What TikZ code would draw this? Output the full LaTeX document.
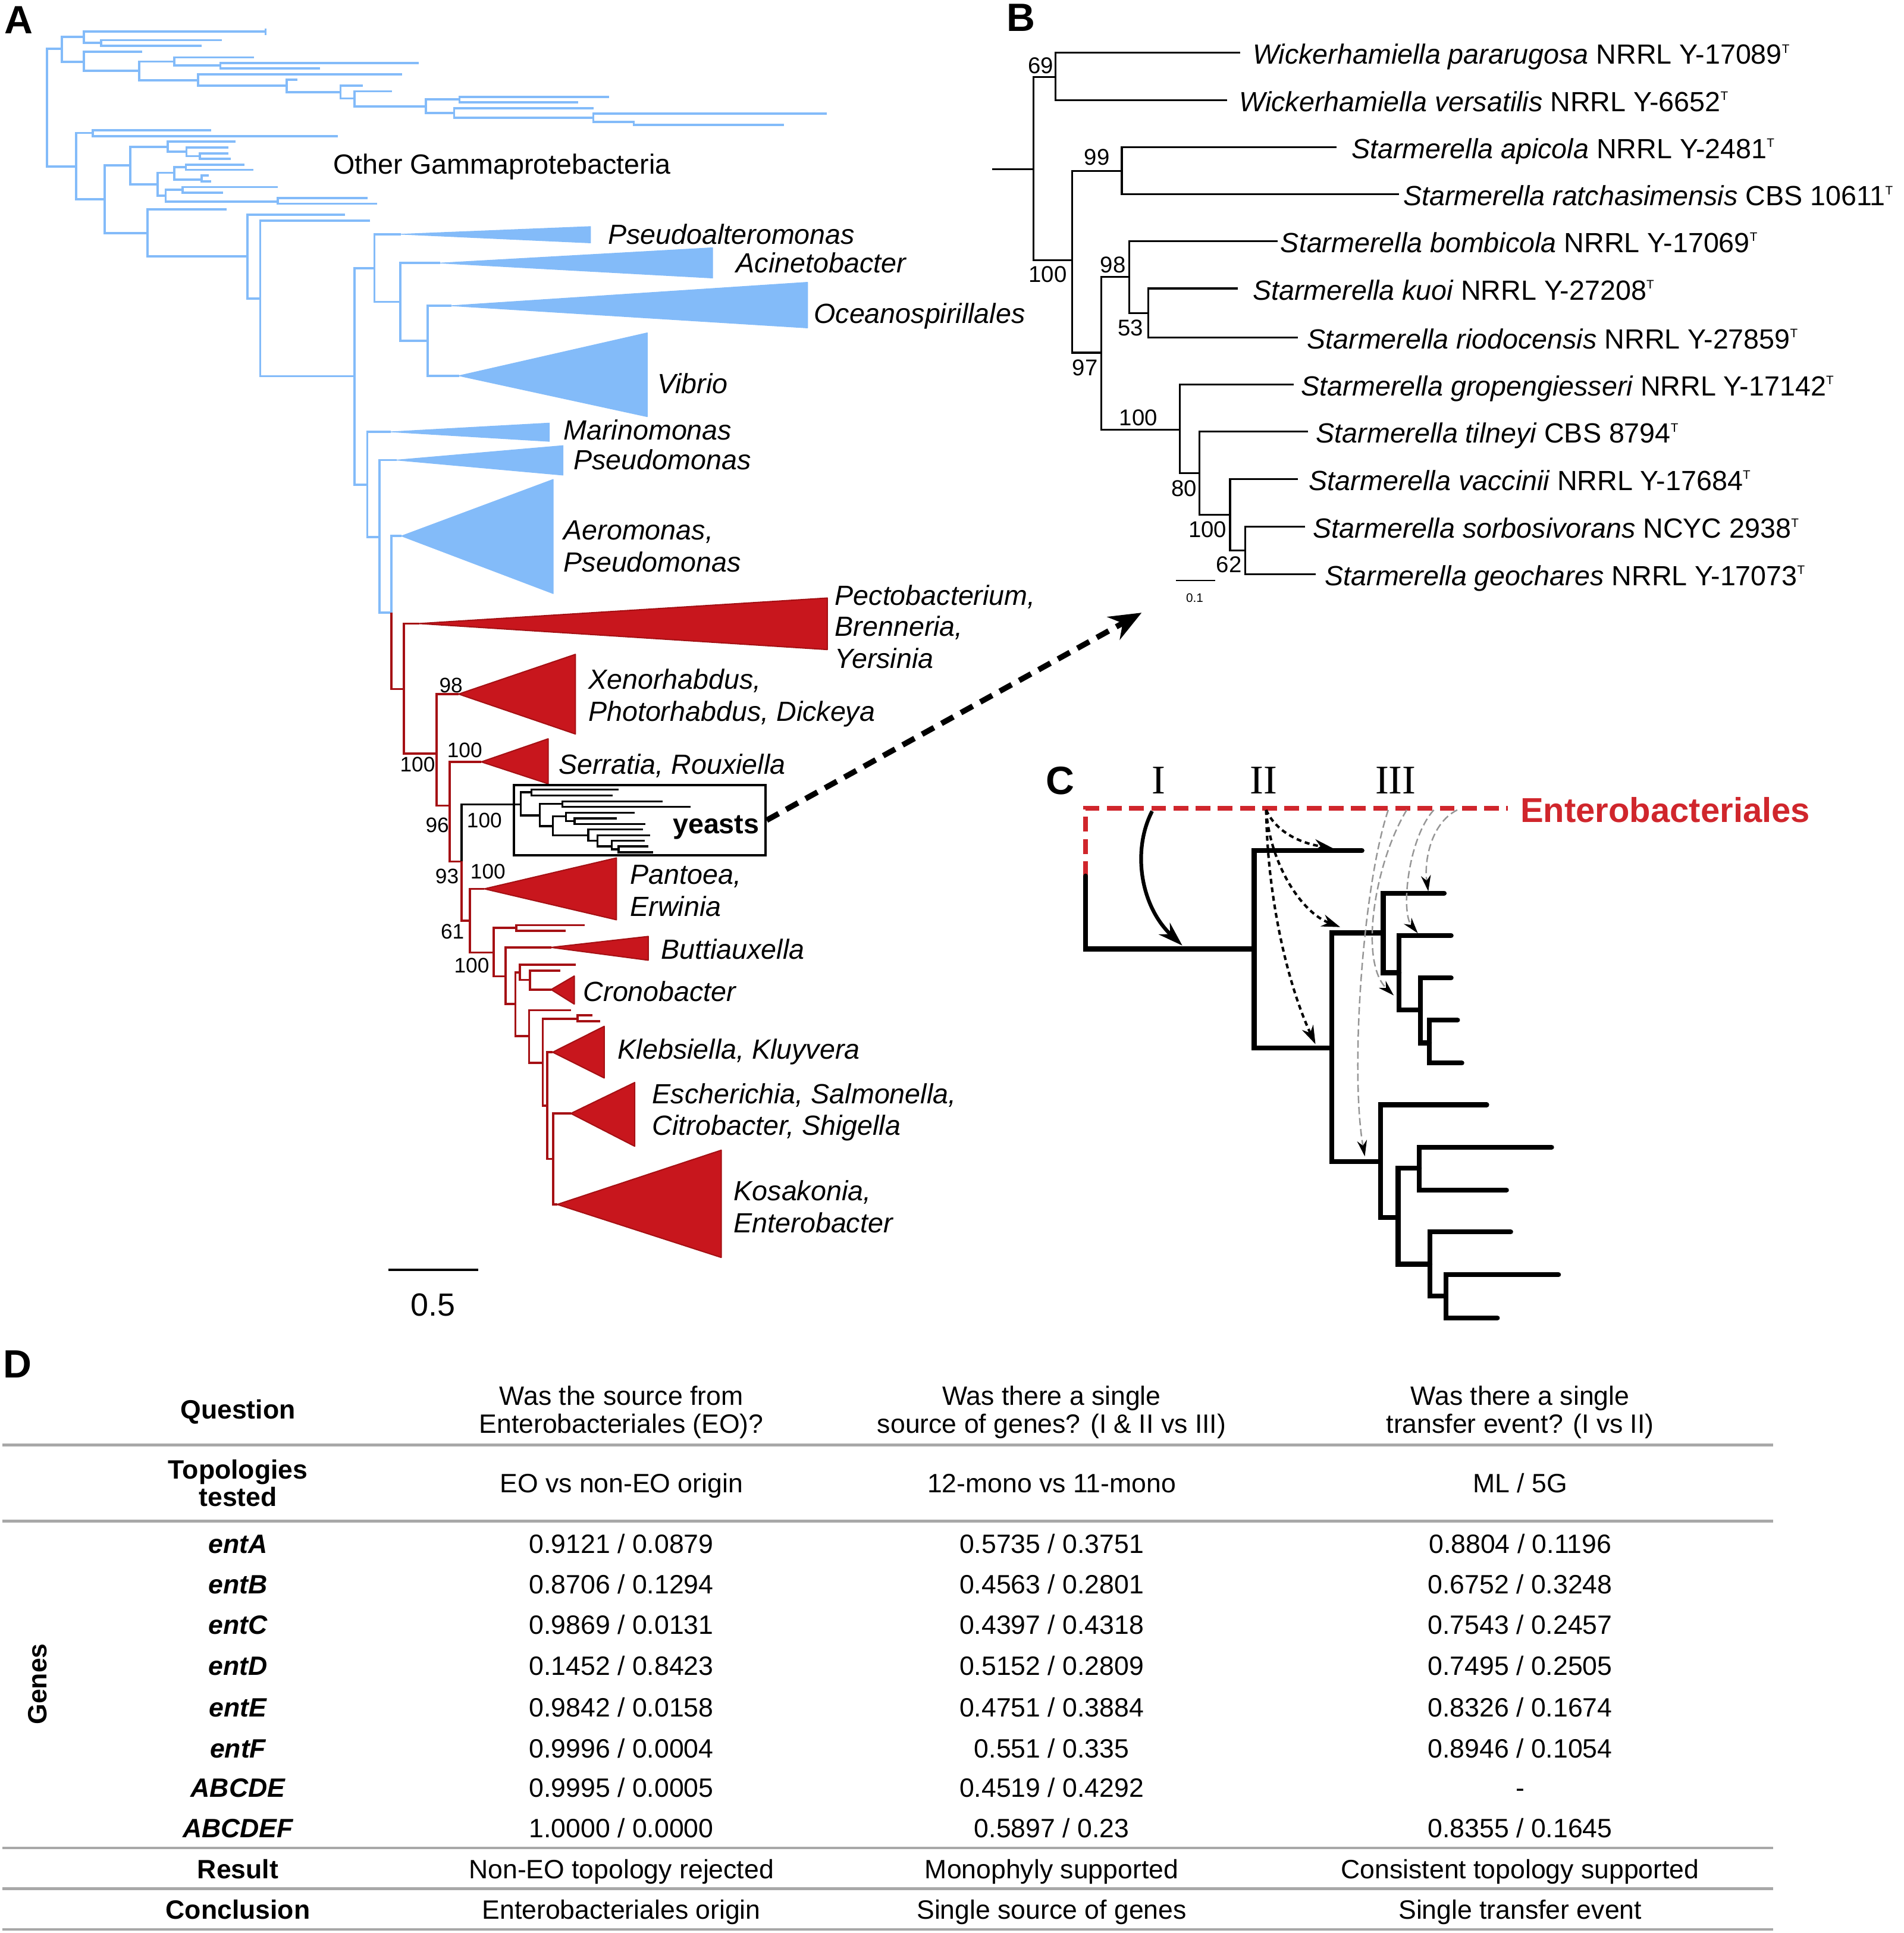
\documentclass[tikz,border=0pt]{standalone}
\usepackage{fontspec}
\setmainfont{Liberation Sans}
\newfontfamily\romanfont{Liberation Serif}
\usetikzlibrary{arrows.meta}

\definecolor{gblue}{RGB}{131,187,249}
\definecolor{ered}{RGB}{200,22,29}
\definecolor{eredline}{RGB}{165,16,20}
\definecolor{eolabel}{RGB}{208,38,44}
\definecolor{rulegray}{RGB}{168,168,168}
\definecolor{lightarrow}{RGB}{150,150,150}

\newcommand{\typeT}{\raisebox{9pt}{\fontsize{10}{10}\selectfont T}}

\tikzset{
  blueline/.style={gblue, line width=1.8pt},
  redline/.style={eredline, line width=1.8pt},
  blackline/.style={black, line width=1.6pt},
  bline/.style={black, line width=1.5pt},
  bluetri/.style={fill=gblue, draw=gblue, line width=0.6pt, line join=round},
  redtri/.style={fill=ered, draw=eredline, line width=1pt, line join=round},
  taxon/.style={anchor=west, inner sep=0pt, text height=16pt, text depth=0pt,
    font=\fontsize{22.5}{27}\selectfont\itshape},
  plainlbl/.style={taxon, font=\fontsize{22.5}{27}\selectfont},
  boot/.style={inner sep=0pt, text height=12pt, text depth=0pt, font=\fontsize{17}{20}\selectfont},
  bootB/.style={inner sep=0pt, text height=13.2pt, text depth=0pt, font=\fontsize{18.5}{22}\selectfont},
  panel/.style={inner sep=0pt, text height=23pt, text depth=0pt, font=\fontsize{32}{36}\selectfont\bfseries},
  roman/.style={inner sep=0pt, text height=21.8pt, text depth=0pt, font=\fontsize{33}{36}\selectfont\romanfont},
  ctree/.style={line width=4pt, line cap=round},
  cell/.style={inner sep=0pt, text height=15.4pt, text depth=0pt, font=\fontsize{21.5}{25}\selectfont},
  rowhead/.style={cell, font=\fontsize{21.5}{25}\selectfont\bfseries},
  gene/.style={cell, font=\fontsize{21.5}{25}\selectfont\bfseries\itshape},
  tabrule/.style={rulegray, line width=2.2pt},
}

\begin{document}
\begin{tikzpicture}[x=1pt, y=-1pt, >=Stealth]
\useasboundingbox (0,0) rectangle (1544,1568);

% ---------- A: tree of Gammaproteobacteria
\node[panel] (pA) at (15,16) {A};
\draw[blueline]
  (50,39.4) -| (38,135) -- (61.6,135)
  (68,29.8) -| (50,50.2) -- (68,50.2)
  (215.4,25.7) -| (68,34.6) -- (81.9,34.6)
  (215.4,23) -- (215.4,28.4)
  (180,32.6) -| (81.9,37.3) -- (163.7,37.3)
  (115.5,41.8) -| (68,57.4) -- (112.9,57.4)
  (141.3,49.9) -| (112.9,65.1) -- (160.7,65.1)
  (206,46.6) -| (141.3,53.1) -- (178.8,53.1)
  (339.5,51.1) -| (178.8,55.6) -- (259.4,55.6)
  (326.2,60.3) -| (160.7,69.6) -- (232.7,69.6)
  (241.3,64.8) -| (232.7,74.8) -- (276.2,74.8)
  (294.3,69.5) -| (276.2,79.9) -- (287.4,79.9)
  (318,74) -| (287.4,86.4) -- (345.5,86.4)
  (372.7,80.7) -| (345.5,91.7) -- (368.4,91.7)
  (493.8,78.5) -| (372.7,83) -- (468.8,83)
  (481.3,87.7) -| (368.4,95.7) -- (481.3,95.7)
  (670.8,92.2) -| (481.3,99) -- (514,99) |- (636,101.3)
  (75.4,107.8) -| (61.6,161.6) -- (84.9,161.6)
  (171.5,105.8) -| (75.4,110.5) -- (274,110.5)
  (105.6,134) -| (84.9,189) -- (119.6,189)
  (136.1,119) -| (105.6,149.6) -- (128,149.6)
  (190.9,115) -| (136.1,123) -- (151.2,123)
  (185.3,119.8) -| (151.2,126.6) -- (162,126.6)
  (185.3,124.3) -| (162,128.8) -- (187,128.8)
  (141.3,140.2) -| (128,158.9) -- (134.4,158.9)
  (150.8,135.6) -| (141.3,145.6) -- (163.7,145.6)
  (198.2,133.5) -| (150.8,137.8) -- (205.5,137.8)
  (169.3,142.5) -| (163.7,147) -- (171.5,147)
  (148.2,153.9) -| (134.4,163.4) -- (225.3,163.4)
  (225.3,151.7) -| (148.2,156.2) -- (181,156.2)
  (298.1,160.8) -| (225.3,165.3) -- (305.9,165.3)
  (184,169.7) -| (119.6,208.1) -- (200.6,208.1)
  (280,174.2) -| (200.6,242.2) -- (211.1,242.2)
  (300.3,178.9) -| (211.1,305.2) -- (287.7,305.2)
  (303.7,217.5) -| (287.7,393.1) -- (297.9,393.1)
  (325.3,190) -| (303.7,244.9) -- (324.6,244.9)
  (357,213.4) -| (324.6,276.4) -- (346.8,276.4)
  (366,248) -| (346.8,304.8) -- (372.3,304.8)
  (317,350.3) -| (297.9,435.8) -- (307.7,435.8)
  (321.6,373.2) -| (307.7,496.9) -- (317.5,496.9)
  (325.6,434.8) -| (317.5,497.8);
\filldraw[bluetri] (325.3,190) -- (479,183.8) -- (479,197) -- cycle;
\filldraw[bluetri] (357,213.4) -- (578,201) -- (578,225.5) -- cycle;
\filldraw[bluetri] (366,248) -- (655,229) -- (655,266) -- cycle;
\filldraw[bluetri] (372.3,304.8) -- (525,270) -- (525,338) -- cycle;
\filldraw[bluetri] (317,350.3) -- (445.6,343.2) -- (445.6,358) -- cycle;
\filldraw[bluetri] (321.6,373.2) -- (456.7,361.5) -- (456.7,385.4) -- cycle;
\filldraw[bluetri] (325.6,434.8) -- (448.7,388.9) -- (448.7,481.5) -- cycle;

\draw[redline]
  (317.5,496.9) -- (317.5,558.9) -- (327.7,558.9)
  (340,505.8) -| (327.7,611.2) -- (354,611.2)
  (372,563) -| (354,653.5) -- (364.6,653.5)
  (390.4,618) -| (364.6,698.8) -- (374.4,698.8) -- (374.4,746.8) -- (381.1,746.8)
  (392.9,721) -| (381.1,772.7) -- (400.3,772.7)
  (418.7,752.5) -| (400.3,791.9) -- (410.1,791.9)
  (474.1,750.5) -| (418.7,755) -- (458.9,755)
  (447,768.5) -| (410.1,814.5) -- (418,814.5)
  (421.7,788.7) -| (418,840.4) -- (429.1,840.4)
  (467.2,782.5) -| (421.7,794.9) -- (429.8,794.9)
  (454.4,787.5) -| (429.8,802.7) -- (447,802.7)
  (463.3,819.5) -| (429.1,862) -- (440.2,862)
  (468.5,826.4) -| (440.2,897) -- (443.9,897)
  (480.3,823.7) -| (468.5,828.3) -- (486.9,828.3)
  (448.3,853.5) -| (443.9,940.1) -- (448.8,940.1)
  (463,903.2) -| (448.8,977) -- (452,977);
\filldraw[redtri] (340,505.8) -- (671,485.1) -- (671,526.9) -- cycle;
\filldraw[redtri] (372,563) -- (466.7,530.8) -- (466.7,595.4) -- cycle;
\filldraw[redtri] (390.4,618) -- (444.6,599.3) -- (444.6,635.8) -- cycle;
\filldraw[redtri] (392.9,721) -- (500,695.9) -- (500,746.1) -- cycle;
\filldraw[redtri] (447,768.5) -- (525.8,759.6) -- (525.8,778.9) -- cycle;
\filldraw[redtri] (447,802.7) -- (465.8,791.7) -- (465.8,814.5) -- cycle;
\filldraw[redtri] (448.3,853.5) -- (490.1,832.5) -- (490.1,874.4) -- cycle;
\filldraw[redtri] (463,903.2) -- (514.8,878.1) -- (514.8,929.8) -- cycle;
\filldraw[redtri] (452,977) -- (585,933) -- (585,1020) -- cycle;

% yeast clade
\draw[blackline]
  (374.4,698.8) |- (422.4,652.5)
  (431.1,642.7) -| (422.4,661.4) -- (437.7,661.4)
  (501.7,640.3) -| (431.1,645.2) -- (496.8,645.2)
  (456.2,652.1) -| (437.7,670.2) -- (448.3,670.2)
  (537.4,650) -| (456.2,654.5) -- (560.3,654.5)
  (458.9,662.3) -| (448.3,677.5) -- (477.1,677.5)
  (515,659.4) -| (458.9,665.9) -- (466,665.9)
  (500.5,663.9) -| (466,668.3) -- (523.4,668.3)
  (521.4,672.8) -| (477.1,682) -- (484.7,682)
  (527.1,677.5) -| (484.7,686.6) -- (496.3,686.6)
  (522.9,682) -| (496.3,689) -- (501.7,689)
  (525.8,686.6) -| (501.7,691.3) -- (529.5,691.3);
\node[draw, line width=1.8pt, minimum width=204pt, minimum height=57pt, inner sep=0pt]
  (yeastbox) at (519,665.3) {};
\node[plainlbl, anchor=east, font=\fontsize{22.5}{27}\selectfont\bfseries] (yeasts) at (616,668) {yeasts};

\node[plainlbl] (other) at (270,133) {Other Gammaprotebacteria};
\node[taxon] (pseudoalt) at (493,190) {Pseudoalteromonas};
\node[taxon] (acineto) at (597,213) {Acinetobacter};
\node[taxon] (oceano) at (660,254) {Oceanospirillales};
\node[taxon] (vibrio) at (533,311) {Vibrio};
\node[taxon] (marino) at (457,349) {Marinomonas};
\node[taxon] (pseudo) at (465,373) {Pseudomonas};
\node[taxon] (aero1) at (457,430) {Aeromonas,};
\node[taxon] (aero2) at (457,456) {Pseudomonas};
\node[taxon] (pecto1) at (677,483) {Pectobacterium,};
\node[taxon] (pecto2) at (677,508) {Brenneria,};
\node[taxon] (pecto3) at (677,534) {Yersinia};
\node[taxon] (xeno1) at (477,551) {Xenorhabdus,};
\node[taxon] (xeno2) at (477,577) {Photorhabdus, Dickeya};
\node[taxon] (serratia) at (453,620) {Serratia, Rouxiella};
\node[taxon] (pant1) at (511,709) {Pantoea,};
\node[taxon] (pant2) at (511,735) {Erwinia};
\node[taxon] (butti) at (536,770) {Buttiauxella};
\node[taxon] (crono) at (473,804) {Cronobacter};
\node[taxon] (klebs) at (501,851) {Klebsiella, Kluyvera};
\node[taxon] (esch1) at (529,887) {Escherichia, Salmonella,};
\node[taxon] (esch2) at (529,913) {Citrobacter, Shigella};
\node[taxon] (kosa1) at (595,966) {Kosakonia,};
\node[taxon] (kosa2) at (595,992) {Enterobacter};

\node[boot] (bsA1) at (365.8,556) {98};
\node[boot] (bsA2) at (338.7,620) {100};
\node[boot] (bsA3) at (376.9,608.2) {100};
\node[boot] (bsA4) at (354.7,669.2) {96};
\node[boot] (bsA5) at (392.9,665.3) {100};
\node[boot] (bsA6) at (362.6,710.6) {93};
\node[boot] (bsA7) at (395.8,706.7) {100};
\node[boot] (bsA8) at (367,755.5) {61};
\node[boot] (bsA9) at (382.6,783) {100};

\draw[line width=2pt] (315,1030) -- (388,1030);
\node[inner sep=0pt, text height=18.6pt, text depth=0pt, font=\fontsize{26}{30}\selectfont] (sclA) at (351,1058) {0.5};

% dashed link from yeasts to B
\coordinate (toB) at (926,497);
\draw[line width=4.5pt, dash pattern=on 11pt off 7pt, -{Stealth[length=26pt,width=21pt]}] (yeastbox.east) -- (toB);

% ---------- B: yeast tree
\node[panel] (pB) at (828,14) {B};
\draw[bline]
  (804.7,137.3) -- (838.3,137.3)
  (856.1,62.4) -| (838.3,210.9) -- (869.5,210.9)
  (1005.9,42.9) -| (856.1,81.3) -- (995.3,81.3)
  (909.9,138.6) -| (869.5,286.1) -- (893.1,286.1)
  (1084.1,119.2) -| (909.9,157.6) -- (1134.5,157.6)
  (916.1,224.4) -| (893.1,348.4) -- (956.9,348.4)
  (1036.1,195.6) -| (916.1,254) -- (931.5,254)
  (1004,234) -| (931.5,273.6) -- (1052.9,273.6)
  (1049.1,311.9) -| (956.9,383.6) -- (972.8,383.6)
  (1061.1,350.1) -| (972.8,417.4) -- (997.7,417.4)
  (1052.9,388.6) -| (997.7,446.3) -- (1010.2,446.3)
  (1058.7,427.3) -| (1010.2,465.6) -- (1067.3,465.6);
\node[plainlbl] (wpar) at (1016,44) {{\itshape Wickerhamiella pararugosa} NRRL Y-17089\typeT};
\node[plainlbl] (wver) at (1005,82.5) {{\itshape Wickerhamiella versatilis} NRRL Y-6652\typeT};
\node[plainlbl] (sapi) at (1096,120.4) {{\itshape Starmerella apicola} NRRL Y-2481\typeT};
\node[plainlbl] (srat) at (1138,158.8) {{\itshape Starmerella ratchasimensis} CBS 10611\typeT};
\node[plainlbl] (sbom) at (1038.5,196.8) {{\itshape Starmerella bombicola} NRRL Y-17069\typeT};
\node[plainlbl] (skuo) at (1016,235.2) {{\itshape Starmerella kuoi} NRRL Y-27208\typeT};
\node[plainlbl] (srio) at (1060,274.8) {{\itshape Starmerella riodocensis} NRRL Y-27859\typeT};
\node[plainlbl] (sgro) at (1055.3,313.1) {{\itshape Starmerella gropengiesseri} NRRL Y-17142\typeT};
\node[plainlbl] (stil) at (1067.3,351.3) {{\itshape Starmerella tilneyi} CBS 8794\typeT};
\node[plainlbl] (svac) at (1061.6,389.8) {{\itshape Starmerella vaccinii} NRRL Y-17684\typeT};
\node[plainlbl] (ssor) at (1065,428.5) {{\itshape Starmerella sorbosivorans} NCYC 2938\typeT};
\node[plainlbl] (sgeo) at (1074.5,466.8) {{\itshape Starmerella geochares} NRRL Y-17073\typeT};

\node[bootB] (bsB1) at (844,52.8) {69};
\node[bootB] (bsB2) at (889.7,127.2) {99};
\node[bootB] (bsB3) at (849.9,222.4) {100};
\node[bootB] (bsB4) at (902.7,214.4) {98};
\node[bootB] (bsB5) at (917.1,265.7) {53};
\node[bootB] (bsB6) at (880.1,298.1) {97};
\node[bootB] (bsB7) at (923.3,338.8) {100};
\node[bootB] (bsB8) at (960.3,396.1) {80};
\node[bootB] (bsB9) at (979.5,429.3) {100};
\node[bootB] (bsB10) at (996.8,457.6) {62};

\draw[line width=1pt] (953.6,470.9) -- (985.7,470.9);
\node[inner sep=0pt, font=\fontsize{10}{12}\selectfont] (sclB) at (969,485) {0.1};

% ---------- C: transfer scenarios
\node[panel] (pC) at (860,633) {C};
\node[roman] (rI) at (940,633) {I};
\node[roman] (rII) at (1025,633) {II};
\node[roman] (rIII) at (1132,633) {III};
\draw[eolabel, line width=4pt, dash pattern=on 12pt off 6pt] (880.6,710.6) -- (880.6,655.8) -- (1223.1,655.8);
\node[anchor=west, inner sep=0pt, text height=20pt, text depth=0pt, text=eolabel,
  font=\fontsize{28}{32}\selectfont\bfseries] (eo) at (1233,656.8) {Enterobacteriales};

\draw[ctree]
  (880.6,710.6) |- (1017.2,769.7)
  (1104.7,690) -| (1017.2,850) -- (1080.1,850)
  (1121.9,756.8) -| (1080.1,942.3) -- (1119.7,942.3)
  (1171.4,724.5) -| (1121.9,789.1) -- (1134.8,789.1)
  (1177,758.9) -| (1134.8,819.2) -- (1152.1,819.2)
  (1177,793.1) -| (1152.1,846) -- (1159.4,846)
  (1182.2,827.5) -| (1159.4,862.3) -- (1185.7,862.3)
  (1205.9,896.2) -| (1119.7,987.5) -- (1134,987.5)
  (1151.2,947.5) -| (1134,1025.4) -- (1159.8,1025.4)
  (1258.5,930.6) -| (1151.2,965.4) -- (1221.9,965.4)
  (1225.3,999.2) -| (1159.8,1051.2) -- (1172.7,1051.2)
  (1264.1,1034) -| (1172.7,1069.1) -- (1214.5,1069.1);

\coordinate (srcI) at (934.5,658);
\coordinate (tgtI) at (959,767);
\coordinate (srcII) at (1027,657);
\coordinate (tgtIIa) at (1081,688);
\coordinate (tgtIIb) at (1087,752);
\coordinate (tgtIIc) at (1067,847);
\coordinate (srcIIIa) at (1182,657);
\coordinate (srcIIIb) at (1163,657);
\coordinate (srcIIIc) at (1141,657);
\coordinate (srcIIId) at (1126,657);
\coordinate (tgtIIIa) at (1158.5,723);
\coordinate (tgtIIIb) at (1150,757);
\coordinate (tgtIIIc) at (1130.5,807.5);
\coordinate (tgtIIId) at (1107,938);
\draw[line width=3pt, -{Stealth[length=20pt,width=13pt]}] (srcI) .. controls (918,690) and (925,735) .. (tgtI);
\draw[line width=2pt, dash pattern=on 4pt off 3pt, -{Stealth[length=15pt,width=10pt]}]
  (srcII) .. controls (1035,675) and (1055,684) .. (tgtIIa);
\draw[line width=2pt, dash pattern=on 4pt off 3pt, -{Stealth[length=15pt,width=10pt]}]
  (srcII) .. controls (1030,700) and (1055,740) .. (tgtIIb);
\draw[line width=2pt, dash pattern=on 4pt off 3pt, -{Stealth[length=15pt,width=10pt]}]
  (srcII) .. controls (1028,730) and (1045,800) .. (tgtIIc);
\draw[lightarrow, line width=1.2pt, dash pattern=on 6pt off 3pt, -{Stealth[black,length=13pt,width=8pt]}]
  (srcIIIa) .. controls (1160,668) and (1155,700) .. (tgtIIIa);
\draw[lightarrow, line width=1.2pt, dash pattern=on 6pt off 3pt, -{Stealth[black,length=13pt,width=8pt]}]
  (srcIIIb) .. controls (1142,680) and (1136,740) .. (tgtIIIb);
\draw[lightarrow, line width=1.2pt, dash pattern=on 6pt off 3pt, -{Stealth[black,length=13pt,width=8pt]}]
  (srcIIIc) .. controls (1115,700) and (1102,780) .. (tgtIIIc);
\draw[lightarrow, line width=1.2pt, dash pattern=on 6pt off 3pt, -{Stealth[black,length=13pt,width=8pt]}]
  (srcIIId) .. controls (1105,720) and (1095,870) .. (tgtIIId);

% ---------- D: table
\node[panel] (pD) at (14,1106) {D};
\draw[tabrule] (2,1172) -- (1438,1172);
\draw[tabrule] (2,1234) -- (1438,1234);
\draw[tabrule] (2,1499) -- (1438,1499);
\draw[tabrule] (2,1532) -- (1438,1532);
\draw[tabrule] (2,1565) -- (1438,1565);

\node[rowhead] (question) at (193,1143) {Question};
\node[cell] (q1a) at (504,1132) {Was the source from};
\node[cell] (q1b) at (504,1155) {Enterobacteriales (EO)?};
\node[cell] (q2a) at (853,1132) {Was there a single};
\node[cell] (q2b) at (853,1155) {source of genes? (I \& II vs III)};
\node[cell] (q3a) at (1233,1132) {Was there a single};
\node[cell] (q3b) at (1233,1155) {transfer event? (I vs II)};

\node[rowhead] (topo1) at (193,1192) {Topologies};
\node[rowhead] (topo2) at (193,1214) {tested};
\node[cell] (t1) at (504,1203) {EO vs non-EO origin};
\node[cell] (t2) at (853,1203) {12-mono vs 11-mono};
\node[cell] (t3) at (1233,1203) {ML / 5G};

\node[rowhead, rotate=90] (genes) at (30,1366) {Genes};

\node[gene] (gA) at (193,1252) {entA};
\node[cell] (gA1) at (504,1252) {0.9121 / 0.0879};
\node[cell] (gA2) at (853,1252) {0.5735 / 0.3751};
\node[cell] (gA3) at (1233,1252) {0.8804 / 0.1196};
\node[gene] (gB) at (193,1285) {entB};
\node[cell] (gB1) at (504,1285) {0.8706 / 0.1294};
\node[cell] (gB2) at (853,1285) {0.4563 / 0.2801};
\node[cell] (gB3) at (1233,1285) {0.6752 / 0.3248};
\node[gene] (gC) at (193,1318) {entC};
\node[cell] (gC1) at (504,1318) {0.9869 / 0.0131};
\node[cell] (gC2) at (853,1318) {0.4397 / 0.4318};
\node[cell] (gC3) at (1233,1318) {0.7543 / 0.2457};
\node[gene] (gD) at (193,1351) {entD};
\node[cell] (gD1) at (504,1351) {0.1452 / 0.8423};
\node[cell] (gD2) at (853,1351) {0.5152 / 0.2809};
\node[cell] (gD3) at (1233,1351) {0.7495 / 0.2505};
\node[gene] (gE) at (193,1385) {entE};
\node[cell] (gE1) at (504,1385) {0.9842 / 0.0158};
\node[cell] (gE2) at (853,1385) {0.4751 / 0.3884};
\node[cell] (gE3) at (1233,1385) {0.8326 / 0.1674};
\node[gene] (gF) at (193,1418) {entF};
\node[cell] (gF1) at (504,1418) {0.9996 / 0.0004};
\node[cell] (gF2) at (853,1418) {0.551 / 0.335};
\node[cell] (gF3) at (1233,1418) {0.8946 / 0.1054};
\node[gene] (gAE) at (193,1450) {ABCDE};
\node[cell] (gAE1) at (504,1450) {0.9995 / 0.0005};
\node[cell] (gAE2) at (853,1450) {0.4519 / 0.4292};
\node[cell] (gAE3) at (1233,1450) {-};
\node[gene] (gAF) at (193,1483) {ABCDEF};
\node[cell] (gAF1) at (504,1483) {1.0000 / 0.0000};
\node[cell] (gAF2) at (853,1483) {0.5897 / 0.23};
\node[cell] (gAF3) at (1233,1483) {0.8355 / 0.1645};

\node[rowhead] (result) at (193,1516) {Result};
\node[cell] (r1) at (504,1516) {Non-EO topology rejected};
\node[cell] (r2) at (853,1516) {Monophyly supported};
\node[cell] (r3) at (1233,1516) {Consistent topology supported};
\node[rowhead] (concl) at (193,1549) {Conclusion};
\node[cell] (c1) at (504,1549) {Enterobacteriales origin};
\node[cell] (c2) at (853,1549) {Single source of genes};
\node[cell] (c3) at (1233,1549) {Single transfer event};
\end{tikzpicture}
\end{document}
